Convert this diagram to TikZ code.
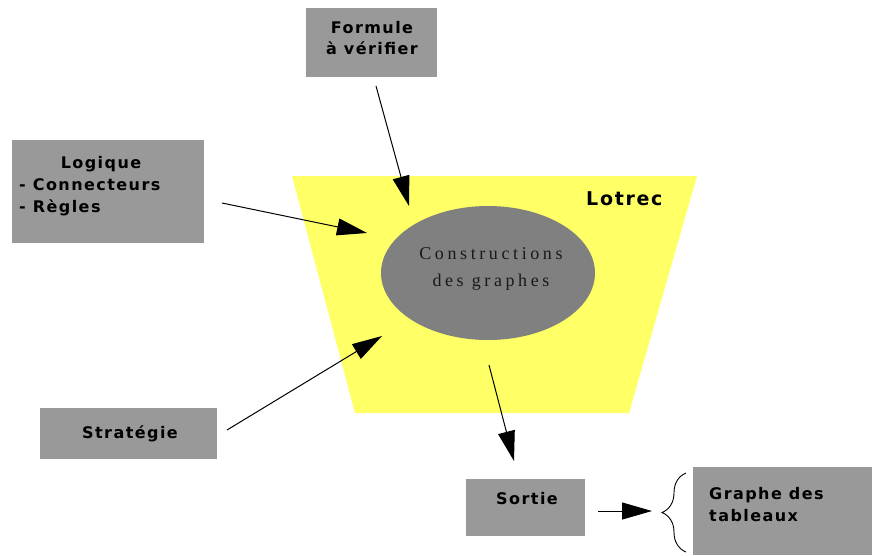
\documentclass[tikz,border=0pt]{standalone}
\usepackage{fontspec}
\setmainfont{Liberation Sans}
\newfontfamily\boxfont[LetterSpace=9]{DejaVu Sans}
\newfontfamily\ellfont[LetterSpace=20]{Liberation Serif}
\usetikzlibrary{arrows.meta,decorations.pathreplacing,shapes.geometric}
\definecolor{boxgray}{HTML}{999999}
\definecolor{ellgray}{HTML}{808080}
\definecolor{lyellow}{HTML}{FFFF66}
\begin{document}
\begin{tikzpicture}[x=1pt,y=-1pt,
  gbox/.style={fill=boxgray,draw=none},
  lbl/.style={font=\boxfont\fontsize{16}{21}\selectfont\bfseries,inner sep=0pt},
  arr/.style={draw=black,line width=1pt,-{Triangle[length=30pt,width=17pt]}}]
\useasboundingbox (0,0) rectangle (872,555);
% trapezoid
\fill[lyellow] (292,176) -- (697,176) -- (629,413) -- (355,413) -- cycle;
\node[fill=ellgray,ellipse,minimum width=214pt,minimum height=134pt,inner sep=0pt] (ell) at (488,273) {};
\node[font=\ellfont\fontsize{18}{27}\selectfont,text=black!90,align=center,inner sep=0pt] (elltext) at (491,269) {Constructions\\des graphes};
\node[lbl,font=\boxfont\fontsize{19}{23}\selectfont\bfseries,anchor=base west] (lotrec) at (586,205) {Lotrec};
% boxes
\node[gbox,minimum width=131pt,minimum height=69pt,inner sep=0pt] (formule) at (371.5,42.5) {};
\node[lbl,align=center] at (372,38) {Formule\\à vérifier};
\node[gbox,minimum width=192pt,minimum height=103pt,inner sep=0pt] (logique) at (108,191.5) {};
\node[lbl,anchor=base] at (101,168) {Logique};
\node[lbl,anchor=base west] at (19,190) {- Connecteurs};
\node[lbl,anchor=base west] at (19,212) {- Règles};
\node[gbox,minimum width=177pt,minimum height=51pt,inner sep=0pt] (strategie) at (128.5,433.5) {};
\node[lbl,anchor=base] at (130,438) {Stratégie};
\node[gbox,minimum width=119pt,minimum height=57pt,inner sep=0pt] (sortie) at (525.5,507.5) {};
\node[lbl,anchor=base] at (527,504) {Sortie};
\node[gbox,minimum width=179pt,minimum height=88pt,inner sep=0pt] (graphe) at (782.5,511) {};
\node[lbl,anchor=base west,align=left] at (709,499) {Graphe des};
\node[lbl,anchor=base west] at (709,521) {tableaux};
% arrow endpoints
\coordinate (a1s) at (376,86);  \coordinate (a1e) at (409,206);
\coordinate (a2s) at (222,203); \coordinate (a2e) at (367,233);
\coordinate (a3s) at (227,430); \coordinate (a3e) at (382,336);
\coordinate (a4s) at (489,365); \coordinate (a4e) at (514,461);
\coordinate (a5s) at (598,511); \coordinate (a5e) at (652,511);
\draw[arr] (a1s) -- (a1e);
\draw[arr] (a2s) -- (a2e);
\draw[arr] (a3s) -- (a3e);
\draw[arr] (a4s) -- (a4e);
\draw[arr] (a5s) -- (a5e);
% brace
\coordinate (bb) at (686,552); \coordinate (bt) at (686,473);
\draw[line width=0.9pt,decorate,decoration={brace,amplitude=24pt,aspect=0.5}] (bb) -- (bt);
\end{tikzpicture}
\end{document}
